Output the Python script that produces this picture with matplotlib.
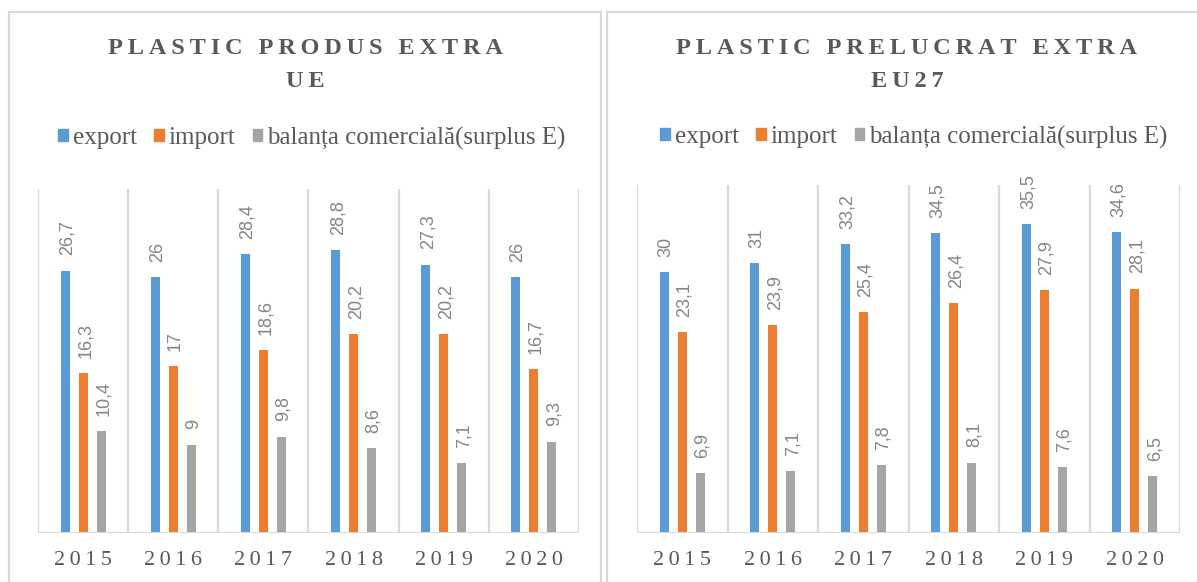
import matplotlib.pyplot as plt
from matplotlib.patches import Rectangle, Patch

# data
years = ['2015', '2016', '2017', '2018', '2019', '2020']
series_names = ['export', 'import', 'balanța comercială(surplus E)']

produs_export = [26.7, 26, 28.4, 28.8, 27.3, 26]
produs_import = [16.3, 17, 18.6, 20.2, 20.2, 16.7]
produs_balanta = [10.4, 9, 9.8, 8.6, 7.1, 9.3]

prelucrat_export = [30, 31, 33.2, 34.5, 35.5, 34.6]
prelucrat_import = [23.1, 23.9, 25.4, 26.4, 27.9, 28.1]
prelucrat_balanta = [6.9, 7.1, 7.8, 8.1, 7.6, 6.5]

colors = ['#5B9BD5', '#ED7D31', '#A5A5A5']
TXT = '#595959'
GRID = '#D9D9D9'
W, H = 1197, 582


def spaced(s, sep='\u2009'):
    return sep.join(list(s))


def panel(ax, series, ymax):
    x = list(range(len(years)))
    offs = [-0.2, 0.0, 0.2]
    for vals, off, c in zip(series, offs, colors):
        pos = [i + off for i in x]
        ax.bar(pos, vals, width=0.1, color=c, zorder=3)
        for p, v in zip(pos, vals):
            lab = ('%g' % v).replace('.', ',')
            ax.annotate(lab, (p, v), xytext=(1.5, 11), textcoords='offset points',
                        rotation=90, ha='center', va='bottom', fontsize=13,
                        family='Liberation Sans', color='#858585')
    ax.set_xlim(-0.5, len(years) - 0.5)
    ax.set_ylim(0, ymax)
    ax.vlines([i - 0.5 for i in range(len(years) + 1)], 0, ymax, color=GRID, lw=1.6, zorder=1)
    for s in ax.spines.values():
        s.set_visible(False)
    ax.axhline(0, color=GRID, lw=2.2, zorder=4)
    ax.set_yticks([])
    ax.set_xticks(x)
    ax.set_xticklabels([spaced(y) for y in years], family='Liberation Serif',
                       fontsize=16, color=TXT)
    ax.tick_params(axis='x', length=0, pad=13)


fig = plt.figure(figsize=(W / 100, H / 100), dpi=100)

# panel frames
fig.patches.append(Rectangle((9 / W, -0.05), 592 / W, 1.05 - 12 / H, transform=fig.transFigure,
                             fill=False, ec=GRID, lw=1.6))
fig.patches.append(Rectangle((607 / W, -0.05), 600 / W, 1.05 - 12 / H, transform=fig.transFigure,
                             fill=False, ec=GRID, lw=1.6))

ax1 = fig.add_axes([38 / W, 49 / H, 541 / W, 344 / H])
ax2 = fig.add_axes([637 / W, 49 / H, 543 / W, 348 / H])

panel(ax1, [produs_export, produs_import, produs_balanta], 35)
panel(ax2, [prelucrat_export, prelucrat_import, prelucrat_balanta], 40)

# titles
for cx, lines in [(305, ['PLASTIC PRODUS EXTRA', 'UE']),
                  (907, ['PLASTIC PRELUCRAT EXTRA', 'EU27'])]:
    for yy, t in zip([49, 82], lines):
        fig.text(cx / W, 1 - yy / H, spaced(t), ha='center', va='center',
                 family='Liberation Serif', weight='bold', fontsize=17.5, color=TXT)

# legends
handles = [Patch(color=c) for c in colors]
for cx, yy in [(312, 138), (914, 137)]:
    fig.legend(handles, series_names, loc='center', bbox_to_anchor=(cx / W, 1 - yy / H),
               ncol=3, frameon=False, prop={'family': 'Liberation Serif', 'size': 18},
               labelcolor=TXT, handlelength=0.38, handleheight=0.38, handletextpad=0.2,
               columnspacing=0.7, borderpad=0)

fig.savefig('out.png', dpi=100)
